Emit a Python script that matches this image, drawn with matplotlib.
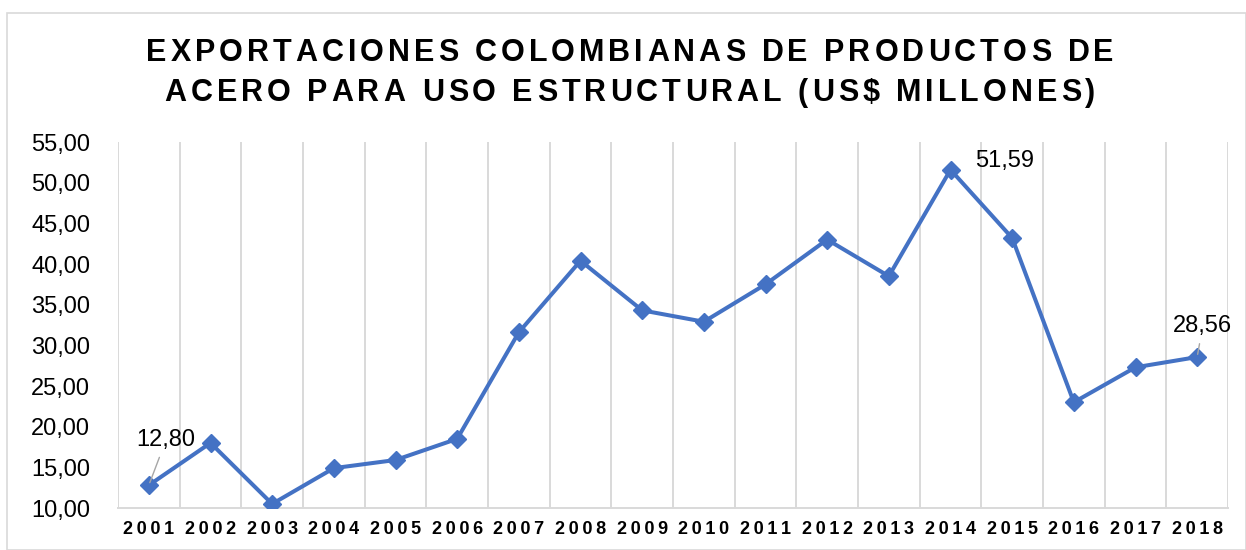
import matplotlib
matplotlib.use("Agg")
import matplotlib.pyplot as plt
from matplotlib.patches import Rectangle
from matplotlib.ticker import FixedLocator, FuncFormatter
from matplotlib.font_manager import FontProperties

years = [str(y) for y in range(2001, 2019)]
values = [12.80, 18.0, 10.5, 14.9, 15.9, 18.5, 31.6, 40.4, 34.3, 32.9,
          37.5, 43.0, 38.5, 51.59, 43.2, 23.0, 27.3, 28.56]
yticks = [10, 15, 20, 25, 30, 35, 40, 45, 50, 55]
title_lines = ["EXPORTACIONES COLOMBIANAS DE PRODUCTOS DE",
               "ACERO PARA USO ESTRUCTURAL (US$ MILLONES)"]

plt.rcParams['font.family'] = ['Liberation Sans', 'DejaVu Sans']

fig = plt.figure(figsize=(12.46, 5.5), dpi=100)
fig.patches.append(Rectangle((7/1246, 0), 1 - 7/1246, 1 - 13/550, transform=fig.transFigure,
                             fill=False, edgecolor='#D9D9D9', linewidth=1.2))

ax = fig.add_axes([118/1246, 1 - 508/550, (1228 - 118)/1246, (508 - 142)/550])
x = list(range(len(years)))
ax.plot(x, values, color='#4472C4', linewidth=2.9, marker='D', markersize=9,
        markerfacecolor='#4472C4', markeredgecolor='#4472C4', zorder=3)

fmt = lambda v: f"{v:.2f}".replace('.', ',')
ax.set_xlim(-0.5, len(years) - 0.5)
ax.set_ylim(10, 55)
ax.set_yticks(yticks)
ax.yaxis.set_major_formatter(FuncFormatter(lambda v, p: fmt(v)))
ax.set_xticks(x)
ax.set_xticklabels(["\u2009".join(y) for y in years], fontweight='bold', fontsize=13)
ax.xaxis.set_minor_locator(FixedLocator([i + 0.5 for i in range(-1, len(years))]))
ax.grid(True, which='minor', axis='x', color='#D9D9D9', linewidth=1.4)
ax.grid(False, which='major')
ax.tick_params(axis='both', which='both', length=0)
ax.tick_params(axis='y', labelsize=17, pad=20)
ax.tick_params(axis='x', pad=9)
for s in ['top', 'right', 'left']:
    ax.spines[s].set_visible(False)
ax.spines['bottom'].set_color('#D9D9D9')
ax.spines['bottom'].set_linewidth(1.4)

# data labels
ax.annotate(fmt(values[0]), xy=(0, values[0]), xytext=(0.28, 18.4), fontsize=17,
            ha='center', va='center',
            arrowprops=dict(arrowstyle='-', color='#A6A6A6', lw=1, shrinkA=3, shrinkB=2))
ax.annotate(fmt(values[13]), xy=(13, values[13]), xytext=(13.88, 52.7), fontsize=17,
            ha='center', va='center')
ax.annotate(fmt(values[17]), xy=(17, values[17]), xytext=(17.09, 32.4), fontsize=17,
            ha='center', va='center',
            arrowprops=dict(arrowstyle='-', color='#A6A6A6', lw=1, shrinkA=3, shrinkB=2))

# title with letter spacing
fig.canvas.draw()
renderer = fig.canvas.get_renderer()
fp = FontProperties(family='Liberation Sans', weight='bold', size=22)
spacing = 4.0
for line, ypix in zip(title_lines, [53, 93]):
    widths = []
    for ch in line:
        if ch == ' ':
            w, _, _ = renderer.get_text_width_height_descent('a a', fp, ismath=False)
            w2, _, _ = renderer.get_text_width_height_descent('aa', fp, ismath=False)
            widths.append(w - w2)
        else:
            w, _, _ = renderer.get_text_width_height_descent(ch, fp, ismath=False)
            widths.append(w)
    total = sum(widths) + spacing * (len(line) - 1)
    xpos = 630 - total / 2
    for ch, w in zip(line, widths):
        fig.text(xpos / 1246, 1 - ypix / 550, ch, fontproperties=fp, ha='left', va='center')
        xpos += w + spacing

fig.savefig('out.png', dpi=100)
